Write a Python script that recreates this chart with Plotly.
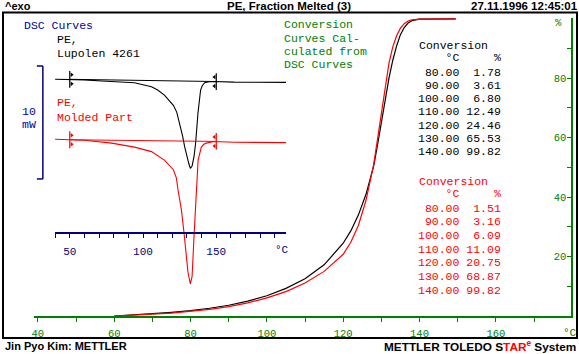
import plotly.graph_objects as go

W, H = 579, 354
def px(x): return x / W
def py(y): return 1 - y / H

GREEN = "#008000"
NAVY = "#000080"
BLUE = "#0000a0"
RED = "#ff0000"
BLACK = "#000000"
MONO = "Liberation Mono"
SANS = "Liberation Sans"

# ---- Conversion curves (main axes): temperature in °C, fraction melted in %
conv_T = [60, 65, 70, 75, 80, 85, 90, 95, 100, 105, 110, 115, 120, 122, 124, 126,
          128, 129, 130, 131, 132, 133, 134, 135, 136, 137, 138, 140, 145, 149.5]
conv_black = [0.0, 0.3, 0.8, 1.25, 1.78, 2.6, 3.61, 5.0, 6.80, 9.3, 12.49, 17.2, 24.46, 28.6, 34.0, 41.0,
              50.5, 57.5, 65.53, 73.0, 80.0, 86.0, 90.8, 94.6, 97.0, 98.5, 99.3, 99.82, 99.9, 99.9]
conv_red = [0.0, 0.2, 0.6, 1.0, 1.51, 2.2, 3.16, 4.4, 6.09, 8.2, 11.09, 15.0, 20.75, 24.8, 30.5, 39.0,
            51.0, 59.5, 68.87, 77.5, 85.0, 90.5, 94.2, 96.8, 98.3, 99.2, 99.6, 99.82, 99.9, 99.9]

# ---- Conversion tables
table_T = [80.00, 90.00, 100.00, 110.00, 120.00, 130.00, 140.00]
table_black = [1.78, 3.61, 6.80, 12.49, 24.46, 65.53, 99.82]
table_red = [1.51, 3.16, 6.09, 11.09, 20.75, 68.87, 99.82]

# ---- DSC curves (inset): temperature in °C, heat flow in mW (relative, exo up)
dsc_T_black = [40, 60, 71.8, 85, 94.2, 105.8, 110, 114.6, 118, 120.7, 123, 125.0, 127.0, 128.4,
               130.0, 131.2, 132.3, 133.5, 134.8, 135.9, 137.5, 139.3, 140.5, 142.1, 145, 148.6, 162.2, 197.6]
dsc_black = [0.0, -0.05, -0.15, -0.22, -0.3, -0.65, -0.95, -1.4, -1.9, -2.3, -2.9, -3.9, -5.0, -5.96,
             -6.9, -7.43, -7.88, -7.67, -6.85, -5.66, -3.0, -0.95, -0.55, -0.3, -0.22, -0.2, -0.25, -0.27]
dsc_T_red = [40, 60, 78.6, 94.2, 105.8, 114.6, 120.7, 122.8, 123.9, 126.2, 128.0, 129.6, 130.7,
             132.3, 133.5, 134.8, 135.9, 136.9, 137.6, 139.8, 141.5, 143.2, 148.6, 162.2, 197.6]
dsc_red = [0.0, -0.1, -0.35, -0.7, -1.1, -1.85, -2.7, -3.45, -4.5, -6.25, -8.3, -10.4, -11.8,
           -12.8, -12.15, -8.6, -5.6, -2.7, -1.85, -0.7, -0.45, -0.35, -0.2, -0.27, -0.3]
dsc_offset_red = -5.3          # vertical display shift of the red DSC curve, mW
limits_T = [50, 150]           # integration limits, °C
base_black = [0.0, -0.2]       # integration baseline values at the limits, mW
base_red = [-0.05, -0.2]
scale_top, scale_mW = 1.18, 10  # 10 mW scale bar

fig = go.Figure()

# main conversion curves
fig.add_trace(go.Scatter(x=conv_T, y=conv_black, mode="lines", line=dict(color=BLACK, width=1.2),
                         xaxis="x", yaxis="y", hoverinfo="skip"))
fig.add_trace(go.Scatter(x=conv_T, y=conv_red, mode="lines", line=dict(color=RED, width=1.2),
                         xaxis="x", yaxis="y", hoverinfo="skip"))

# inset DSC curves
red_disp = [v + dsc_offset_red for v in dsc_red]
red_base_disp = [v + dsc_offset_red for v in base_red]
fig.add_trace(go.Scatter(x=dsc_T_black, y=dsc_black, mode="lines", line=dict(color=BLACK, width=1.1),
                         xaxis="x2", yaxis="y2", hoverinfo="skip"))
fig.add_trace(go.Scatter(x=dsc_T_red, y=red_disp, mode="lines", line=dict(color=RED, width=1.1),
                         xaxis="x2", yaxis="y2", hoverinfo="skip"))
for base, col in [(base_black, BLACK), (red_base_disp, RED)]:
    fig.add_trace(go.Scatter(x=limits_T, y=base, mode="lines+markers", line=dict(color=col, width=1),
                             marker=dict(symbol="line-ns", size=12, line=dict(color=col, width=1.2)),
                             xaxis="x2", yaxis="y2", hoverinfo="skip"))
    d = 0.4
    fig.add_trace(go.Scatter(x=[limits_T[0] + 1.3, limits_T[0] + 1.3], y=[base[0] + d, base[0] - d],
                             mode="markers", marker=dict(symbol="triangle-right", size=4, color=col),
                             xaxis="x2", yaxis="y2", hoverinfo="skip"))
    fig.add_trace(go.Scatter(x=[limits_T[1] - 1.3, limits_T[1] - 1.3], y=[base[1] + d, base[1] - d],
                             mode="markers", marker=dict(symbol="triangle-left", size=4, color=col),
                             xaxis="x2", yaxis="y2", hoverinfo="skip"))

ann = []
def txt(x, y, s, color=BLACK, size=11.5, family=MONO, xanchor="left"):
    ann.append(dict(x=px(x), y=py(y), xref="paper", yref="paper", text=s, showarrow=False,
                    xanchor=xanchor, yanchor="middle", font=dict(color=color, size=size, family=family)))

# header / footer
txt(1, 6, "<b>^exo</b>", size=11, family=SANS)
txt(288, 6, "<b>PE, Fraction Melted (3)</b>", size=11.5, family=SANS, xanchor="center")
txt(580, 6, "<b>27.11.1996 12:45:01</b>", size=11.5, family=SANS, xanchor="right")
txt(1, 346, "<b>Jin Pyo Kim: METTLER</b>", size=11, family=SANS)
txt(578, 346, "<b>METTLER TOLEDO S<span style='color:#ff0000'>TAR<sup>e</sup></span> System</b>",
    size=11.8, family=SANS, xanchor="right")

# inset texts
txt(20, 26, "DSC Curves", BLUE)
txt(53, 40, "PE,")
txt(53, 53, "Lupolen 4261")
txt(53, 102, "PE,", RED)
txt(53, 117, "Molded Part", RED)
txt(27, 111, "10", BLUE, xanchor="center")
txt(27, 124, "mW", BLUE, xanchor="center")
txt(281, 250, "°C", NAVY, size=11, xanchor="center")

# green note
for i, line in enumerate(["Conversion", "Curves Cal-", "culated from", "DSC Curves"]):
    txt(281, 25 + i * 13, line, GREEN)

# tables
def table(y0, dy, vals, color):
    txt(416, y0 - 27, "Conversion", color)
    txt(503, y0 - 14, f"{'°C':>6}{'%':>6}", color, xanchor="right")
    for i, (t, p) in enumerate(zip(table_T, vals)):
        txt(503, y0 + i * dy, f"{t:6.2f}{p:6.2f}", color, xanchor="right")
table(72, 13.3, table_black, BLACK)
table(208, 13.7, table_red, RED)

# main axis extra labels
txt(570, 333, "°C", GREEN, size=11, xanchor="center")
txt(558, 23, "%", GREEN, size=10.5, xanchor="center")

shapes = [
    dict(type="rect", xref="paper", yref="paper", x0=px(1), x1=px(577), y0=py(338), y1=py(12.5),
         line=dict(color=BLACK, width=2)),
    # 10 mW scale bar
    dict(type="line", xref="paper", yref="y2", x0=px(41), x1=px(41), y0=scale_top, y1=scale_top - scale_mW,
         line=dict(color=NAVY, width=1.5)),
    dict(type="line", xref="paper", yref="y2", x0=px(35), x1=px(41), y0=scale_top, y1=scale_top,
         line=dict(color=NAVY, width=1.5)),
    dict(type="line", xref="paper", yref="y2", x0=px(35), x1=px(41), y0=scale_top - scale_mW,
         y1=scale_top - scale_mW, line=dict(color=NAVY, width=1.5)),
]

fig.update_layout(
    width=W, height=H, margin=dict(l=0, r=0, t=0, b=0),
    paper_bgcolor="white", plot_bgcolor="rgba(0,0,0,0)", showlegend=False,
    annotations=ann, shapes=shapes,
    xaxis=dict(domain=[px(32), px(571)], range=[38.96, 179.7], anchor="y",
               showline=True, linecolor=GREEN, linewidth=1.5, showgrid=False, zeroline=False,
               ticks="outside", ticklen=4, tickcolor=GREEN, tickwidth=1,
               tickvals=[40, 60, 80, 100, 120, 140, 160],
               minor=dict(tickvals=[50, 70, 90, 110, 130, 150, 170], ticks="outside", ticklen=4,
                          tickcolor=GREEN),
               tickfont=dict(color=GREEN, size=10.5, family=MONO), ticklabelstandoff=3),
    yaxis=dict(domain=[1 - 316 / H, 1 - 18 / H], range=[0, 100.2], anchor="x", side="right",
               showline=True, linecolor=GREEN, linewidth=1.5, showgrid=False, zeroline=False,
               ticks="inside", ticklen=4, tickcolor=GREEN, ticklabelposition="inside",
               tickvals=[0, 20, 40, 60, 80],
               minor=dict(tickvals=[10, 30, 50, 70, 90, 100], ticks="inside", ticklen=4, tickcolor=GREEN),
               tickfont=dict(color=GREEN, size=10.5, family=MONO)),
    xaxis2=dict(domain=[px(53), px(285)], range=[39.8, 197.6], anchor="free", position=1 - 233 / H,
                showline=True, linecolor=NAVY, linewidth=1.5, showgrid=False, zeroline=False,
                ticks="outside", ticklen=4, tickcolor=NAVY,
                tickvals=[50, 100, 150],
                minor=dict(tickvals=[40, 60, 70, 80, 90, 110, 120, 130, 140, 160, 170, 180, 190],
                           ticks="outside", ticklen=4, tickcolor=NAVY),
                tickfont=dict(color=NAVY, size=11, family=MONO), ticklabelstandoff=4),
    yaxis2=dict(domain=[1 - 290 / H, 1 - 60 / H], range=[-18.646, 1.708], anchor="x2",
                visible=False, showgrid=False, zeroline=False),
)

fig.write_html("out.html")
